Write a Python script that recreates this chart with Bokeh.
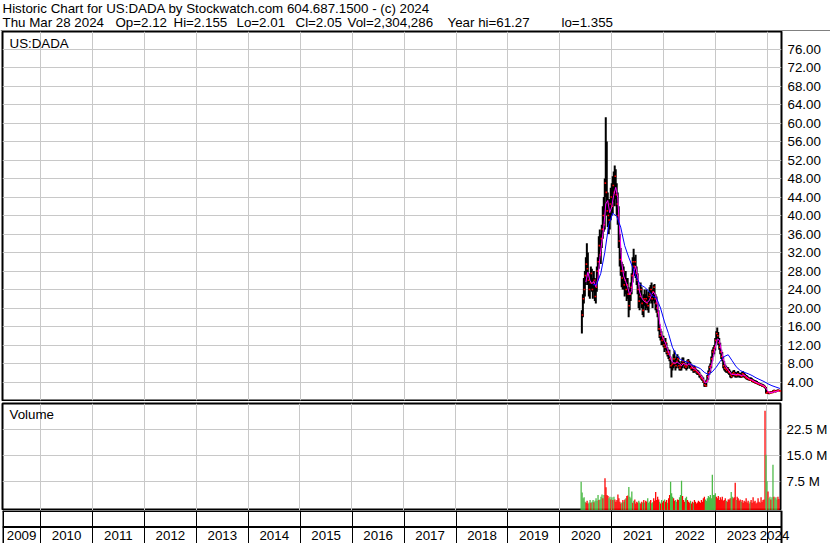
import pandas as pd
from bokeh.plotting import figure
from bokeh.layouts import column
from bokeh.models import (Range1d, FixedTicker, PrintfTickFormatter, Label, LabelSet, Span, Grid,
                          ColumnDataSource)
from bokeh.core.properties import value
from bokeh.embed import file_html
from bokeh.resources import INLINE

# ---------------- data ----------------
HEADER_LINE_1 = "Historic Chart for US:DADA by Stockwatch.com 604.687.1500 - (c) 2024"
HEADER_FIELDS = ["Thu Mar 28 2024", "Op=2.12", "Hi=2.155", "Lo=2.01", "Cl=2.05",
                 "Vol=2,304,286", "Year hi=61.27", "lo=1.355"]
SYMBOL = "US:DADA"
VOLUME_TITLE = "Volume"

FIRST_WEEK = "2020-06-04"        # weekly bars, one per week
VIEW_START = "2009-04-08"
VIEW_END = "2024-04-08"
YEAR_LABELS = list(range(2009, 2025))
PRICE_TICKS = [4, 8, 12, 16, 20, 24, 28, 32, 36, 40, 44, 48, 52, 56, 60, 64, 68, 72, 76]
VOLUME_TICKS = [7.5, 15.0, 22.5]   # millions

HIGH = [19.5, 23.0, 26.5, 28.0, 31.0, 34.0, 32.0, 27.5, 26.5, 29.0,
        28.5, 26.5, 28.0, 26.5, 25.5, 29.0, 31.0, 35.5, 37.0, 36.0,
        38.0, 42.0, 44.0, 48.0, 61.27, 56.0, 45.0, 43.5, 43.5, 46.0,
        47.0, 48.5, 49.5, 50.8, 50.0, 47.0, 45.0, 42.0, 36.0, 33.0,
        30.0, 29.5, 29.0, 27.5, 28.0, 26.5, 26.5, 24.5, 24.0, 25.5,
        27.5, 31.0, 32.8, 31.0, 31.5, 29.0, 27.5, 25.0, 23.5, 25.5,
        24.5, 22.0, 23.0, 24.0, 23.0, 24.0, 22.5, 23.5, 24.5, 25.0,
        25.5, 24.0, 25.0, 25.2, 23.0, 22.5, 21.0, 19.5, 16.5, 15.5,
        15.0, 14.0, 14.0, 13.0, 13.5, 12.5, 11.5, 11.0, 11.0, 9.5,
        8.0, 8.5, 10.0, 10.8, 9.0, 9.5, 10.0, 9.5, 8.5, 8.0,
        8.5, 9.3, 9.3, 8.5, 8.0, 7.8, 8.8, 9.0, 8.6, 8.3,
        7.8, 7.6, 7.2, 7.5, 7.2, 6.8, 6.6, 6.5, 6.2, 5.8,
        5.5, 5.2, 5.0, 4.2, 3.8, 4.5, 5.5, 6.5, 7.5, 8.0,
        9.5, 11.0, 11.5, 12.0, 13.5, 15.0, 15.8, 14.8, 13.5, 12.5,
        11.0, 10.5, 9.5, 8.5, 7.8, 7.5, 7.2, 7.2, 6.8, 6.5,
        6.0, 6.2, 6.5, 6.6, 6.2, 6.0, 6.2, 6.4, 6.0, 6.0,
        5.8, 6.2, 6.3, 6.0, 5.8, 5.5, 5.4, 5.2, 5.0, 5.0,
        5.0, 4.8, 4.6, 4.5, 4.4, 4.3, 4.2, 4.0, 3.9, 3.8,
        3.7, 3.6, 3.5, 3.4, 3.2, 2.9, 2.0, 2.0, 1.9, 1.9,
        2.0, 2.0, 2.2, 2.3, 2.2, 2.2, 2.3, 2.4, 2.3, 2.155]

LOW = [14.5, 18.0, 21.0, 22.5, 25.0, 27.5, 25.0, 22.5, 22.0, 24.0,
       23.5, 22.0, 23.5, 21.5, 21.0, 23.5, 26.0, 28.5, 30.0, 29.5,
       33.0, 35.0, 36.5, 37.0, 44.0, 40.0, 37.5, 36.0, 37.0, 39.0,
       40.0, 40.5, 43.0, 42.0, 43.5, 40.0, 38.0, 33.0, 29.0, 27.0,
       24.5, 24.0, 24.0, 22.5, 23.0, 21.5, 22.0, 18.0, 19.5, 21.5,
       23.0, 25.5, 28.0, 27.0, 26.5, 25.0, 23.0, 20.0, 19.5, 21.0,
       20.0, 18.5, 18.0, 20.5, 19.5, 20.0, 19.5, 19.0, 21.0, 21.5,
       21.0, 20.0, 21.5, 21.0, 19.5, 19.0, 18.0, 15.0, 13.5, 13.0,
       12.0, 12.0, 11.5, 10.5, 11.0, 10.0, 9.5, 9.0, 8.5, 7.0,
       5.0, 6.5, 7.0, 7.5, 6.5, 7.0, 7.5, 7.0, 6.5, 6.5,
       6.5, 7.0, 7.5, 7.0, 6.8, 6.5, 6.8, 7.5, 7.0, 6.8,
       6.5, 6.5, 6.0, 6.0, 6.2, 5.8, 5.5, 5.5, 5.0, 4.8,
       4.5, 4.2, 3.8, 3.0, 2.9, 3.0, 4.0, 4.5, 5.5, 6.0,
       7.0, 8.5, 9.5, 10.0, 10.8, 12.5, 13.5, 12.0, 11.0, 10.0,
       9.0, 8.5, 7.0, 6.5, 6.2, 6.0, 6.0, 5.8, 5.5, 5.0,
       4.8, 5.0, 5.2, 5.3, 5.0, 5.0, 5.0, 5.2, 5.0, 5.0,
       4.9, 5.0, 5.2, 5.0, 4.8, 4.6, 4.5, 4.4, 4.3, 4.2,
       4.2, 4.0, 3.9, 3.8, 3.7, 3.6, 3.5, 3.4, 3.3, 3.2,
       3.2, 3.0, 2.9, 2.8, 2.6, 1.5, 1.4, 1.5, 1.355, 1.5,
       1.5, 1.6, 1.6, 1.8, 1.8, 1.8, 1.9, 2.0, 2.0, 2.01]

CLOSE = [18.5, 22.0, 24.0, 27.0, 29.5, 28.5, 26.0, 24.0, 25.5, 27.5,
         24.0, 25.5, 26.0, 22.5, 24.5, 28.0, 30.0, 33.5, 31.5, 35.0,
         37.0, 40.0, 38.0, 47.0, 45.0, 41.0, 40.0, 39.0, 42.5, 44.0,
         42.0, 46.5, 45.0, 48.5, 44.5, 42.5, 40.0, 34.5, 30.5, 28.0,
         26.5, 28.0, 25.0, 26.0, 24.0, 25.0, 23.0, 20.5, 23.0, 24.5,
         27.0, 30.0, 29.0, 30.0, 27.5, 26.0, 24.0, 21.5, 22.5, 24.0,
         21.0, 19.5, 22.0, 21.5, 22.0, 21.0, 20.5, 22.5, 23.0, 24.0,
         22.0, 23.5, 24.5, 22.0, 21.0, 20.0, 19.0, 15.5, 14.0, 14.5,
         13.0, 13.5, 12.0, 11.5, 12.5, 10.5, 10.0, 10.5, 9.0, 7.5,
         7.8, 8.0, 9.0, 8.0, 7.5, 8.5, 9.0, 7.5, 7.0, 7.5,
         8.0, 8.5, 8.0, 7.5, 7.2, 7.5, 8.5, 8.0, 7.8, 7.0,
         7.2, 7.0, 6.5, 7.0, 6.5, 6.2, 6.0, 5.8, 5.5, 5.0,
         4.8, 4.5, 4.0, 3.4, 3.2, 4.2, 5.2, 6.0, 7.2, 7.5,
         9.0, 10.5, 11.0, 11.5, 13.0, 14.5, 14.0, 12.5, 11.5, 10.5,
         9.5, 9.0, 7.5, 7.0, 6.8, 6.5, 6.8, 6.2, 6.0, 5.5,
         5.2, 5.8, 6.0, 5.6, 5.5, 5.4, 5.8, 5.6, 5.5, 5.4,
         5.2, 5.8, 5.6, 5.3, 5.0, 4.9, 4.8, 4.6, 4.5, 4.4,
         4.5, 4.2, 4.1, 4.0, 3.9, 3.8, 3.7, 3.6, 3.5, 3.4,
         3.3, 3.2, 3.1, 3.0, 2.8, 1.6, 1.75, 1.85, 1.6, 1.7,
         1.8, 1.7, 2.0, 2.15, 1.9, 2.0, 2.1, 2.2, 2.1, 2.05]

VOLUME_M = [7.3, 4.2, 2.5, 2.8, 1.5, 1.2, 1.8, 1.0, 1.3, 2.0,
            1.2, 1.5, 2.0, 1.4, 1.8, 2.5, 1.8, 3.5, 2.0, 2.2,
            3.0, 3.6, 2.5, 3.5, 8.3, 5.7, 3.5, 3.2, 2.5, 3.0,
            2.2, 2.8, 2.0, 3.0, 2.2, 1.5, 2.0, 3.6, 2.5, 1.5,
            1.0, 1.3, 2.0, 1.5, 2.2, 2.5, 3.2, 3.3, 5.8, 3.0,
            2.5, 4.5, 1.2, 1.8, 2.2, 1.0, 1.5, 1.2, 1.8, 1.3,
            1.0, 1.5, 1.2, 2.0, 1.3, 1.8, 1.5, 2.5, 1.2, 1.6,
            2.0, 1.1, 1.4, 2.5, 1.8, 4.3, 2.0, 3.0, 2.2, 1.5,
            1.0, 2.0, 1.3, 1.8, 2.2, 1.5, 2.0, 1.2, 2.5, 3.5,
            7.3, 4.0, 3.0, 2.5, 1.8, 2.0, 1.5, 2.2, 2.0, 2.8,
            3.5, 7.6, 3.2, 2.0, 1.5, 2.5, 3.0, 2.0, 1.5, 1.2,
            1.8, 1.0, 1.5, 1.2, 2.0, 1.5, 1.0, 1.3, 1.8, 1.5,
            1.2, 2.0, 1.5, 2.5, 3.0, 2.2, 1.8, 2.5, 3.2, 2.8,
            3.5, 2.5, 9.3, 3.5, 3.5, 4.0, 3.0, 2.5, 3.2, 2.0,
            2.8, 2.2, 3.0, 1.8, 2.0, 2.5, 1.8, 1.5, 2.2, 2.2,
            2.5, 4.3, 3.0, 2.5, 2.8, 7.0, 2.0, 3.0, 2.5, 1.8,
            2.2, 1.5, 2.0, 1.2, 1.8, 1.5, 2.5, 1.3, 1.8, 1.0,
            1.5, 2.0, 1.2, 2.8, 1.5, 1.8, 1.0, 1.3, 2.5, 1.5,
            1.2, 2.8, 1.5, 2.0, 2.2, 27.8, 15.1, 7.4, 4.5, 2.5,
            3.0, 2.2, 2.8, 12.2, 3.0, 2.5, 2.8, 2.2, 3.0, 2.3]

# short moving average (magenta): from week 4, every 2nd week
MA_FAST_FIRST, MA_FAST_STEP = 4, 2
MA_FAST = [25.6, 27.75, 26.0, 25.25, 25.75, 24.6, 26.25, 30.75, 34.25, 37.5,
           42.5, 43.25, 40.6, 41.9, 44.4, 46.1, 43.9, 36.9, 29.9, 26.9,
           25.75, 24.5, 22.9, 23.75, 27.6, 29.1, 26.9, 23.5, 22.25, 21.6,
           21.25, 21.25, 21.75, 22.9, 23.5, 22.75, 20.5, 17.1, 14.25, 13.25,
           12.4, 11.1, 10.0, 8.7, 8.1, 8.1, 8.25, 8.0, 7.5, 8.0,
           7.8, 7.7, 7.95, 7.5, 6.9, 6.75, 6.4, 5.9, 5.3, 4.6,
           3.8, 4.0, 5.65, 7.4, 9.5, 11.5, 13.25, 13.1, 11.0, 9.1,
           7.6, 6.8, 6.4, 5.7, 5.6, 5.7, 5.6, 5.6, 5.4, 5.5,
           5.4, 5.0, 4.7, 4.5, 4.3, 4.05, 3.85, 3.65, 3.45, 3.25,
           3.0, 2.3, 1.7, 1.7, 1.8, 1.9, 2.0, 2.1]

# long moving average (blue): from week 11, every 4th week
MA_SLOW_FIRST, MA_SLOW_STEP = 11, 4
MA_SLOW = [25.0, 25.2, 27.5, 32.0, 38.0, 40.5, 39.8, 37.5, 33.5, 31.0,
           28.8, 26.5, 25.0, 24.5, 23.7, 22.6, 22.2, 20.0, 17.0, 14.5,
           11.5, 9.8, 8.9, 8.5, 8.2, 7.7, 7.3, 6.9, 6.1, 5.6,
           6.2, 7.2, 8.5, 9.5, 9.9, 8.6, 7.3, 6.5, 6.1, 5.8,
           5.4, 4.9, 4.5, 4.1, 3.6, 3.2, 2.9, 2.6]

# ---------------- styling / layout ----------------
FONT = "Liberation Sans"
FS = "13.33px"
GRID = "#c8c8c8"
GREEN = "#4cbb47"
RED = "#ff0000"
W = 830
LEFT, RIGHT = 2, 49
FRAME_W = W - LEFT - RIGHT
HEADER_H, PRICE_H, VOL_H, STRIP_H = 31, 370, 109, 33
HEADER_X = [2, 115, 173, 236, 295, 347, 447, 561]   # left edge of each header field
PRICE_TOP = 79.8
VOL_TOP, VOL_FLOOR = 29.86, -1.0


def ms(ts):
    return ts.value // 10**6


def no_frame_align(p):
    try:
        p.frame_align = False
    except Exception:
        pass
    return p


dates = pd.date_range(FIRST_WEEK, periods=len(CLOSE), freq="7D")
x_start, x_end = pd.Timestamp(VIEW_START), pd.Timestamp(VIEW_END)
x_range = Range1d(start=x_start, end=x_end)

year_ms = [ms(pd.Timestamp(f"{y}-01-01")) for y in YEAR_LABELS[1:]]
label_centers = []
for y in YEAR_LABELS:
    lo = max(pd.Timestamp(f"{y}-01-01"), x_start)
    hi = min(pd.Timestamp(f"{y + 1}-01-01"), x_end)
    label_centers.append(ms(lo) + (ms(hi) - ms(lo)) / 2)

up = [True] + [CLOSE[i] >= CLOSE[i - 1] for i in range(1, len(CLOSE))]
vol_colors = [GREEN if u else RED for u in up]


def style_right_axis(ax):
    ax.major_tick_out = 0
    ax.major_tick_in = 0
    ax.minor_tick_out = 0
    ax.minor_tick_in = 0
    ax.axis_line_color = None
    ax.major_label_standoff = 6
    ax.major_label_text_font = FONT
    ax.major_label_text_font_size = FS
    ax.major_label_text_color = "black"


def add_grids(p, yticks, color=GRID):
    for g in p.grid:
        g.visible = False
    p.add_layout(Grid(dimension=0, ticker=FixedTicker(ticks=year_ms), grid_line_color=color))
    if yticks:
        p.add_layout(Grid(dimension=1, ticker=FixedTicker(ticks=yticks), grid_line_color=GRID))


# ---------------- header ----------------
hdr = figure(width=W, height=HEADER_H, x_range=Range1d(0, W), y_range=Range1d(HEADER_H, 0),
             x_axis_location=None, y_axis_location=None, toolbar_location=None,
             output_backend="svg", min_border=0, outline_line_color=None)
no_frame_align(hdr)
hdr.grid.visible = False
hdr.text(x=[2], y=[8], text=[HEADER_LINE_1], text_font=value(FONT), text_font_size=FS,
         text_baseline="middle", text_color="black")
hdr.text(x=HEADER_X, y=[22] * len(HEADER_FIELDS), text=HEADER_FIELDS, text_font=value(FONT),
         text_font_size=FS, text_baseline="middle", text_color="black")
hdr.add_layout(Span(location=HEADER_H - 0.5, dimension="width", line_color="black", line_width=1))

# ---------------- price panel ----------------
pp = figure(width=W, height=PRICE_H, x_range=x_range, y_range=Range1d(0, PRICE_TOP),
            x_axis_type="datetime", x_axis_location=None, y_axis_location="right",
            toolbar_location=None, output_backend="svg",
            min_border_left=LEFT, min_border_right=RIGHT, min_border_top=0, min_border_bottom=1,
            outline_line_color="black", outline_line_width=2)
no_frame_align(pp)
add_grids(pp, PRICE_TICKS)
pp.yaxis.ticker = FixedTicker(ticks=PRICE_TICKS)
pp.yaxis.formatter = PrintfTickFormatter(format="%.2f")
style_right_axis(pp.yaxis[0])

pp.segment(x0=dates, y0=LOW, x1=dates, y1=HIGH, line_color="black", line_width=2)
pp.scatter(x=dates + pd.Timedelta(days=4), y=CLOSE, marker="square", size=1.6,
           fill_color=RED, line_color=None)
fast_dates = dates[MA_FAST_FIRST::MA_FAST_STEP][:len(MA_FAST)]
slow_dates = dates[MA_SLOW_FIRST::MA_SLOW_STEP][:len(MA_SLOW)]
pp.line(x=fast_dates, y=MA_FAST[:len(fast_dates)], line_color="#ff00ff", line_width=1)
pp.line(x=slow_dates, y=MA_SLOW[:len(slow_dates)], line_color="#0000ff", line_width=1)
pp.add_layout(Label(x=ms(x_start), y=PRICE_TOP, x_offset=7, y_offset=-4, text=SYMBOL,
                    text_baseline="top", text_font=FONT, text_font_size=FS, text_color="black"))

# ---------------- volume panel ----------------
vp = figure(width=W, height=VOL_H, x_range=x_range, y_range=Range1d(VOL_FLOOR, VOL_TOP),
            x_axis_type="datetime", x_axis_location=None, y_axis_location="right",
            toolbar_location=None, output_backend="svg",
            min_border_left=LEFT, min_border_right=RIGHT, min_border_top=2, min_border_bottom=0,
            outline_line_color="black", outline_line_width=2)
no_frame_align(vp)
add_grids(vp, VOLUME_TICKS)
vp.yaxis.ticker = FixedTicker(ticks=VOLUME_TICKS)
vp.yaxis.formatter = PrintfTickFormatter(format="%.1f M")
style_right_axis(vp.yaxis[0])
vp.vbar(x=dates, top=VOLUME_M, bottom=VOL_FLOOR, width=9 * 86400000,
        fill_color=vol_colors, line_color=None)
vp.add_layout(Label(x=ms(x_start), y=VOL_TOP, x_offset=7, y_offset=-3, text=VOLUME_TITLE,
                    text_baseline="top", text_font=FONT, text_font_size=FS, text_color="black"))

# ---------------- year strip (frame runs to the page edge so "2024" is not clipped) ----------------
strip_w = W - LEFT
strip_end = x_start + (x_end - x_start) * (strip_w / FRAME_W)
sp = figure(width=W, height=STRIP_H, x_range=Range1d(start=x_start, end=strip_end),
            y_range=Range1d(0, 2), x_axis_type="datetime", x_axis_location=None,
            y_axis_location=None, toolbar_location=None, output_backend="svg",
            min_border_left=LEFT, min_border_right=0, min_border_top=0, min_border_bottom=0,
            outline_line_color=None)
no_frame_align(sp)
add_grids(sp, None, color="black")
sp.segment(x0=[x_start, x_start], y0=[1, 2], x1=[x_end, x_end], y1=[1, 2],
           line_color="black", line_width=[2, 3])
sp.add_layout(Span(location=ms(x_start), dimension="height", line_color="black", line_width=3))
sp.add_layout(Span(location=ms(x_end), dimension="height", line_color="black", line_width=2))
year_src = ColumnDataSource(dict(x=label_centers, y=[0.5] * len(YEAR_LABELS),
                                 text=[str(y) for y in YEAR_LABELS]))
sp.add_layout(LabelSet(x="x", y="y", text="text", source=year_src, text_align="center",
                       text_baseline="middle", text_font=value(FONT), text_font_size=value(FS),
                       text_color="black"))

layout = column(hdr, pp, vp, sp, spacing=0)
open("out.html", "w").write(file_html(layout, INLINE, title="US:DADA historic chart"))
